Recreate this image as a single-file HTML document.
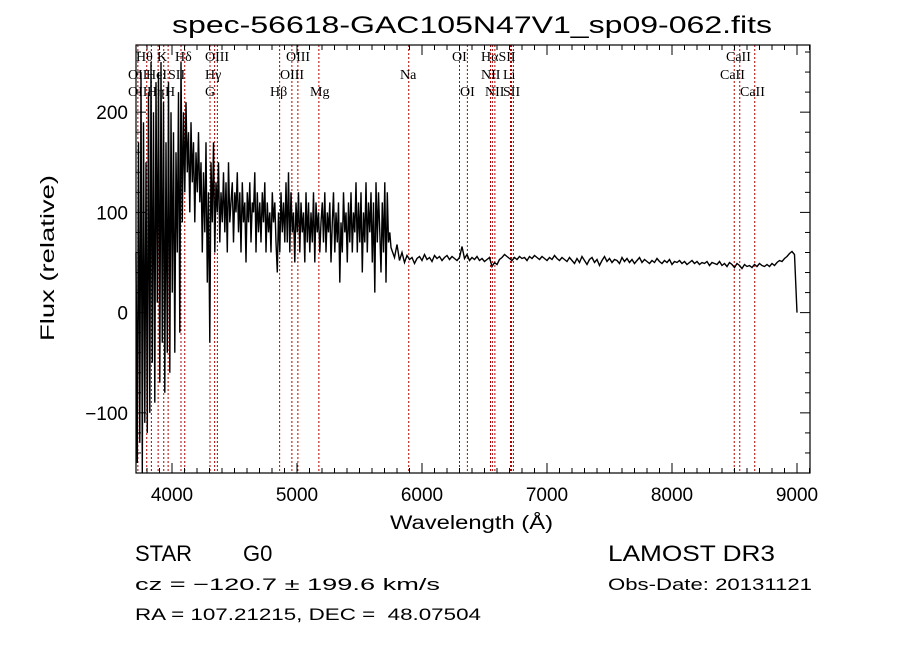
<!DOCTYPE html>
<html><head><meta charset="utf-8"><style>
body{margin:0;background:#fff;width:900px;height:649px;overflow:hidden}
svg text{font-family:"Liberation Sans",sans-serif;fill:#000;white-space:pre}
.ll{font-family:"Liberation Serif",serif;font-size:14px}
</style></head><body>
<svg id="chart" width="900" height="649" xmlns="http://www.w3.org/2000/svg" xml:space="preserve">
<text x="172" y="33" font-size="24" textLength="600" lengthAdjust="spacingAndGlyphs">spec-56618-GAC105N47V1_sp09-062.fits</text>
<g id="lines"></g>
<g id="ticks"></g>
<path id="spec" fill="none" stroke="#000" stroke-width="1.4"/>
<rect x="136" y="45" width="674" height="428" fill="none" stroke="#000" stroke-width="1.2"/>
<g class="ll">
<text x="136" y="61" class="ll">Hθ</text><text x="157" y="61" class="ll">K</text><text x="175" y="61" class="ll">Hδ</text><text x="205" y="61" class="ll">OIII</text><text x="286" y="61" class="ll">OIII</text><text x="452" y="61" class="ll">OI</text><text x="481" y="61" class="ll">HαSII</text><text x="726" y="61" class="ll">CaII</text>
<text x="128" y="79" class="ll">OII</text><text x="146" y="79" class="ll">HeI</text><text x="168" y="79" class="ll">SII</text><text x="205" y="79" class="ll">Hγ</text><text x="280" y="79" class="ll">OIII</text><text x="400" y="79" class="ll">Na</text><text x="481" y="79" class="ll">NII</text><text x="503" y="79" class="ll">Li</text><text x="720" y="79" class="ll">CaII</text>
<text x="128" y="96" class="ll">OII</text><text x="147" y="96" class="ll">Hη</text><text x="165" y="96" class="ll">H</text><text x="205" y="96" class="ll">G</text><text x="270" y="96" class="ll">Hβ</text><text x="310" y="96" class="ll">Mg</text><text x="460" y="96" class="ll">OI</text><text x="485" y="96" class="ll">NII</text><text x="503" y="96" class="ll">SII</text><text x="740" y="96" class="ll">CaII</text>
</g>
<g id="ylabels"></g>
<g id="xlabels"></g>
<text x="390" y="529" font-size="19" textLength="163" lengthAdjust="spacingAndGlyphs">Wavelength (Å)</text>
<text transform="translate(54,341) rotate(-90)" font-size="19" textLength="166" lengthAdjust="spacingAndGlyphs">Flux (relative)</text>
<text x="135" y="561" font-size="22">STAR</text>
<text x="243" y="561" font-size="22">G0</text>
<text x="608" y="561" font-size="22" textLength="167" lengthAdjust="spacingAndGlyphs">LAMOST DR3</text>
<text x="135" y="590" font-size="17" textLength="305" lengthAdjust="spacingAndGlyphs">cz = −120.7 ± 199.6 km/s</text>
<text x="608" y="590" font-size="17" textLength="204" lengthAdjust="spacingAndGlyphs">Obs-Date: 20131121</text>
<text x="135" y="620" font-size="17" textLength="346" lengthAdjust="spacingAndGlyphs">RA = 107.21215, DEC =  48.07504</text>
</svg>
<script>
const noisyStart = 3712, noisyStep = 10;
const noisyFlux = [60,-150,170,-130,240,-160,190,-110,150,-120,
220,-100,250,-50,200,-90,230,10,240,-70,
250,-30,210,-80,170,-40,230,-60,200,20,
180,-40,160,60,220,-20,250,90,200,120,
210,140,180,100,190,130,170,90,160,120,
180,110,150,60,140,80,170,30,120,-30,
150,90,170,60,130,100,150,70,120,90,
140,80,130,60,150,90,110,130,70,120,
100,140,80,120,60,130,90,110,50,120,
90,130,70,110,100,140,60,120,80,110,
70,120,90,130,60,110,80,100,60,120,
90,110,70,40,100,60,120,80,110,70,
130,70,140,60,120,80,100,50,110,80,
120,60,110,80,100,50,120,70,110,60,
100,70,120,50,110,80,100,60,90,110,
70,120,60,100,80,110,50,90,120,60,
100,70,110,30,90,60,120,80,100,50,
110,70,120,60,100,80,130,60,110,70,
120,40,100,70,130,60,110,80,120,50,
110,20,130,70,120,80,40,110,60,130,
30,120,70,80,65];
const flatStart = 5760, flatStep = 20;
const flatFlux = [62,55,68,52,60,50,57,53,55,49,
54,56,52,58,53,55,51,57,54,56,
52,55,57,53,56,54,52,55,66,54,
58,52,55,53,56,52,54,51,53,55,
46,50,48,53,55,58,56,54,52,55,
53,56,54,55,52,56,54,57,55,53,
56,54,52,55,53,57,54,52,55,53,
51,55,52,49,54,50,56,52,48,53,
55,50,53,47,52,56,51,54,50,53,
52,49,55,51,54,50,53,49,52,55,
50,53,51,49,52,50,54,51,49,52,
50,53,48,51,50,52,49,51,48,50,
52,49,51,48,50,49,51,47,50,49,
48,51,47,49,46,50,48,45,49,47,
44,48,46,47,45,48,46,49,47,46,
48,46,49,47,50,52,51,54,56,59,
61,58,0];
const lineWaves = [3727,3798,3835,3889,3934,3969,4072,4102,4304,4341,4363,4861,4959,5007,5175,5894,6300,6363,6548,6563,6583,6708,6716,6731,8498,8542,8662];
const xTickLabels = [4000,5000,6000,7000,8000,9000];
const yTickLabels = [-100,0,100,200];

const X0=136,X1=810,W0=3712,W1=9104,Y0=473,Y1=45,F0=-160,F1=267;
const xs=w=>X0+(w-W0)/(W1-W0)*(X1-X0);
const ys=f=>Y0-(f-F0)/(F1-F0)*(Y0-Y1);
const NS='http://www.w3.org/2000/svg';
function mk(tag,parent){const e=document.createElementNS(NS,tag);document.getElementById(parent).appendChild(e);return e;}

let d='';
noisyFlux.forEach((f,i)=>{d+=(i?'L':'M')+xs(noisyStart+i*noisyStep).toFixed(1)+' '+ys(f).toFixed(1);});
flatFlux.forEach((f,i)=>{d+='L'+xs(flatStart+i*flatStep).toFixed(1)+' '+ys(f).toFixed(1);});
document.getElementById('spec').setAttribute('d',d);

lineWaves.forEach(w=>{
  const l=mk('line','lines');
  
  
  l.setAttribute('x1',xs(w));l.setAttribute('x2',xs(w));l.setAttribute('y1',Y1);l.setAttribute('y2',Y0);
  l.setAttribute('stroke','#b00000');l.setAttribute('stroke-width','1');l.setAttribute('stroke-dasharray','2,2');
});

for(let w=3800;w<=9100;w+=100){
  const len=(w%1000===0)?10:5;
  [[Y0,Y0-len],[Y1,Y1+len]].forEach(p=>{
    const t=mk('line','ticks');
    
    
    t.setAttribute('x1',xs(w));t.setAttribute('x2',xs(w));t.setAttribute('y1',p[0]);t.setAttribute('y2',p[1]);t.setAttribute('stroke','#000');
  });
}
for(let f=-160;f<=260;f+=20){
  const len=(f%100===0)?10:5;
  [[X0,X0+len],[X1,X1-len]].forEach(p=>{
    const t=mk('line','ticks');
    
    
    t.setAttribute('y1',ys(f));t.setAttribute('y2',ys(f));t.setAttribute('x1',p[0]);t.setAttribute('x2',p[1]);t.setAttribute('stroke','#000');
  });
}
xTickLabels.forEach(v=>{
  const t=mk('text','xlabels');
  
  
  t.setAttribute('x',xs(v));t.setAttribute('y',Y0+28);t.setAttribute('font-size','19');t.setAttribute('text-anchor','middle');
  t.textContent=v;
});
yTickLabels.forEach(v=>{
  const t=mk('text','ylabels');
  
  
  t.setAttribute('x',X0-8);t.setAttribute('y',ys(v)+7);t.setAttribute('font-size','19');t.setAttribute('text-anchor','end');
  t.textContent=v<0?'−'+Math.abs(v):v;
});
</script>
</body></html>
